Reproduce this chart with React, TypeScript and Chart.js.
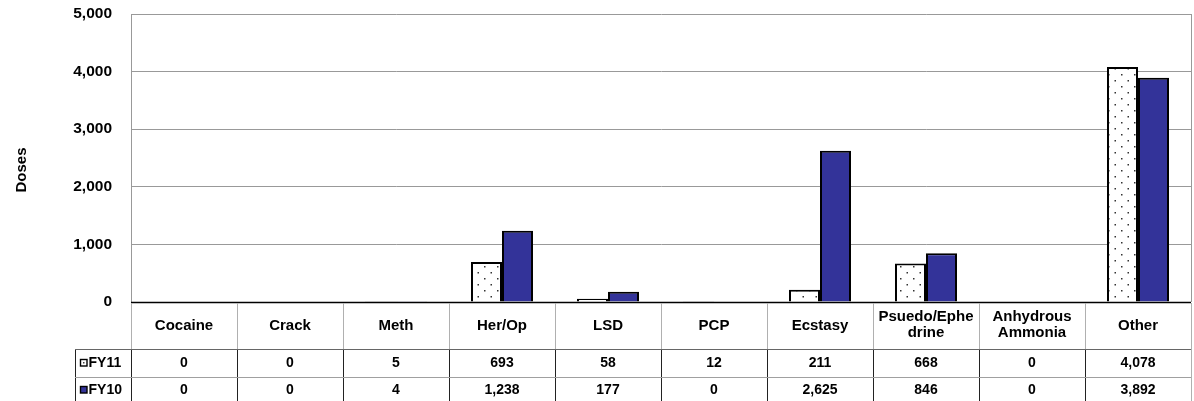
import React, { useEffect, useRef } from "react";
import { Chart, registerables } from "chart.js";

Chart.register(...registerables);

const categories: string[][] = [
  ["Cocaine"],
  ["Crack"],
  ["Meth"],
  ["Her/Op"],
  ["LSD"],
  ["PCP"],
  ["Ecstasy"],
  ["Psuedo/Ephe", "drine"],
  ["Anhydrous", "Ammonia"],
  ["Other"],
];
const fy11: number[] = [0, 0, 5, 693, 58, 12, 211, 668, 0, 4078];
const fy10: number[] = [0, 0, 4, 1238, 177, 0, 2625, 846, 0, 3892];
const seriesNames: string[] = ["FY11", "FY10"];
const yMax = 5000;
const yStep = 1000;

const FONT = "Arial, 'Liberation Sans', sans-serif";
const BLUE = "#333399";

function makePattern(): CanvasPattern | string {
  const c = document.createElement("canvas");
  c.width = 13;
  c.height = 12;
  const g = c.getContext("2d");
  if (!g) return "#fff";
  g.fillStyle = "#ffffff";
  g.fillRect(0, 0, 13, 12);
  g.fillStyle = "#333";
  g.fillRect(3, 2, 1.5, 1.5);
  g.fillRect(9.5, 8, 1.5, 1.5);
  const p = g.createPattern(c, "repeat");
  return p || "#fff";
}

const fmt = (v: number) => v.toLocaleString("en-US");

export default function App() {
  const ref = useRef<HTMLCanvasElement | null>(null);
  useEffect(() => {
    if (!ref.current) return;
    const pattern = makePattern();

    const tablePlugin = {
      id: "tablePlugin",
      afterDatasetsDraw(chart: any) {
        const ctx = chart.ctx as CanvasRenderingContext2D;
        const area = chart.chartArea;
        ctx.save();
        ctx.strokeStyle = "#000";
        ctx.lineWidth = 1.5;
        ctx.beginPath();
        ctx.moveTo(area.left, area.bottom + 0.5);
        ctx.lineTo(area.right, area.bottom + 0.5);
        ctx.stroke();
        ctx.restore();
      },
      afterDraw(chart: any) {
        const ctx = chart.ctx as CanvasRenderingContext2D;
        const area = chart.chartArea;
        const xs = chart.scales.x;
        const n = categories.length;
        const catW = (area.right - area.left) / n;
        const rowTop = area.bottom;
        const row1 = rowTop + 47;
        const row2 = row1 + 28;
        const bottom = chart.height;
        const legLeft = 75;
        ctx.save();
        ctx.lineWidth = 1;
        ctx.strokeStyle = "#b0b0b0";
        for (let i = 0; i <= n; i++) {
          const lx = Math.round(area.left + i * catW) + 0.5;
          ctx.beginPath();
          ctx.moveTo(lx, rowTop + 1);
          ctx.lineTo(lx, row1);
          ctx.stroke();
        }
        ctx.strokeStyle = "#222";
        for (let i = 0; i < n; i++) {
          const lx = Math.round(area.left + i * catW) + 0.5;
          ctx.beginPath();
          ctx.moveTo(lx, row1);
          ctx.lineTo(lx, bottom);
          ctx.stroke();
        }
        ctx.strokeStyle = "#b0b0b0";
        ctx.beginPath();
        ctx.moveTo(Math.round(area.right) + 0.5, row1);
        ctx.lineTo(Math.round(area.right) + 0.5, bottom);
        ctx.stroke();
        ctx.strokeStyle = "#222";
        ctx.beginPath();
        ctx.moveTo(legLeft + 0.5, row1);
        ctx.lineTo(legLeft + 0.5, bottom);
        ctx.stroke();
        ctx.strokeStyle = "#666";
        ctx.beginPath();
        ctx.moveTo(legLeft, row1 + 0.5);
        ctx.lineTo(area.right, row1 + 0.5);
        ctx.stroke();
        ctx.strokeStyle = "#a0a0a0";
        ctx.beginPath();
        ctx.moveTo(legLeft, row2 + 0.5);
        ctx.lineTo(area.right, row2 + 0.5);
        ctx.stroke();

        ctx.fillStyle = "#000";
        ctx.textAlign = "center";
        ctx.textBaseline = "middle";
        ctx.font = `bold 15px ${FONT}`;
        categories.forEach((lines, i) => {
          const cx = xs.getPixelForValue(i);
          if (lines.length === 1) {
            ctx.fillText(lines[0], cx, rowTop + 24);
          } else {
            ctx.fillText(lines[0], cx, rowTop + 15);
            ctx.fillText(lines[1], cx, rowTop + 31);
          }
        });
        ctx.font = `bold 14px ${FONT}`;
        categories.forEach((_lines, i) => {
          const cx = xs.getPixelForValue(i);
          ctx.fillText(fmt(fy11[i]), cx, row1 + 14);
          ctx.fillText(fmt(fy10[i]), cx, row2 + 13);
        });
        ctx.textAlign = "left";
        const keys = [
          { y: row1 + 14, fill: "#fff" },
          { y: row2 + 13, fill: BLUE },
        ];
        keys.forEach((k, j) => {
          ctx.fillStyle = k.fill;
          ctx.fillRect(80.5, k.y - 3.5, 6.5, 6.5);
          ctx.strokeStyle = "#000";
          ctx.lineWidth = 1.4;
          ctx.strokeRect(80.5, k.y - 3.5, 6.5, 6.5);
          if (j === 0) {
            ctx.fillStyle = "#444";
            ctx.fillRect(83, k.y - 1, 1.5, 1.5);
          }
          ctx.fillStyle = "#000";
          ctx.fillText(seriesNames[j], 88.5, k.y);
        });
        ctx.save();
        ctx.translate(22, 170);
        ctx.rotate(-Math.PI / 2);
        ctx.textAlign = "center";
        ctx.textBaseline = "middle";
        ctx.font = `bold 15px ${FONT}`;
        ctx.fillText("Doses", 0, 0);
        ctx.restore();
        ctx.restore();
      },
    };

    const chart = new Chart(ref.current, {
      type: "bar",
      data: {
        labels: categories.map((c) => c.join("")),
        datasets: [
          {
            label: seriesNames[0],
            data: fy11,
            backgroundColor: pattern as any,
            borderColor: "#000",
            borderWidth: 2,
            borderSkipped: "bottom",
            categoryPercentage: 0.585,
            barPercentage: 1,
          },
          {
            label: seriesNames[1],
            data: fy10,
            backgroundColor: BLUE,
            borderColor: "#000",
            borderWidth: 2,
            borderSkipped: "bottom",
            categoryPercentage: 0.585,
            barPercentage: 1,
          },
        ],
      },
      options: {
        responsive: false,
        animation: false,
        devicePixelRatio: 1,
        layout: { padding: { left: 0, right: 3, top: 14, bottom: 99 } },
        plugins: {
          legend: { display: false },
          tooltip: { enabled: false },
          title: { display: false },
        },
        scales: {
          x: {
            display: false,
          },
          y: {
            min: 0,
            max: yMax,
            ticks: {
              stepSize: yStep,
              padding: 19,
              color: "#000",
              font: { family: FONT, size: 15.5, weight: "bold" },
              callback: (v: any) => fmt(Number(v)),
            },
            grid: { color: "#999", drawTicks: false, lineWidth: 1 },
            border: { display: true, color: "#999" },
            afterFit: (scale: any) => {
              scale.width = 131;
              scale.paddingTop = 0;
              scale.paddingBottom = 0;
            },
          },
        },
      },
      plugins: [
        tablePlugin,
        {
          id: "frame",
          beforeDatasetsDraw(chart: any) {
            const ctx = chart.ctx;
            const a = chart.chartArea;
            ctx.save();
            ctx.strokeStyle = "#999";
            ctx.lineWidth = 1;
            ctx.beginPath();
            ctx.moveTo(Math.round(a.right) + 0.5, a.top);
            ctx.lineTo(Math.round(a.right) + 0.5, a.bottom);
            ctx.stroke();
            ctx.restore();
          },
        },
      ],
    });
    return () => chart.destroy();
  }, []);

  return (
    <div style={{ position: "absolute", left: 0, top: 0, width: 1194, height: 401, background: "#fff" }}>
      <canvas ref={ref} width={1194} height={401} />
    </div>
  );
}
